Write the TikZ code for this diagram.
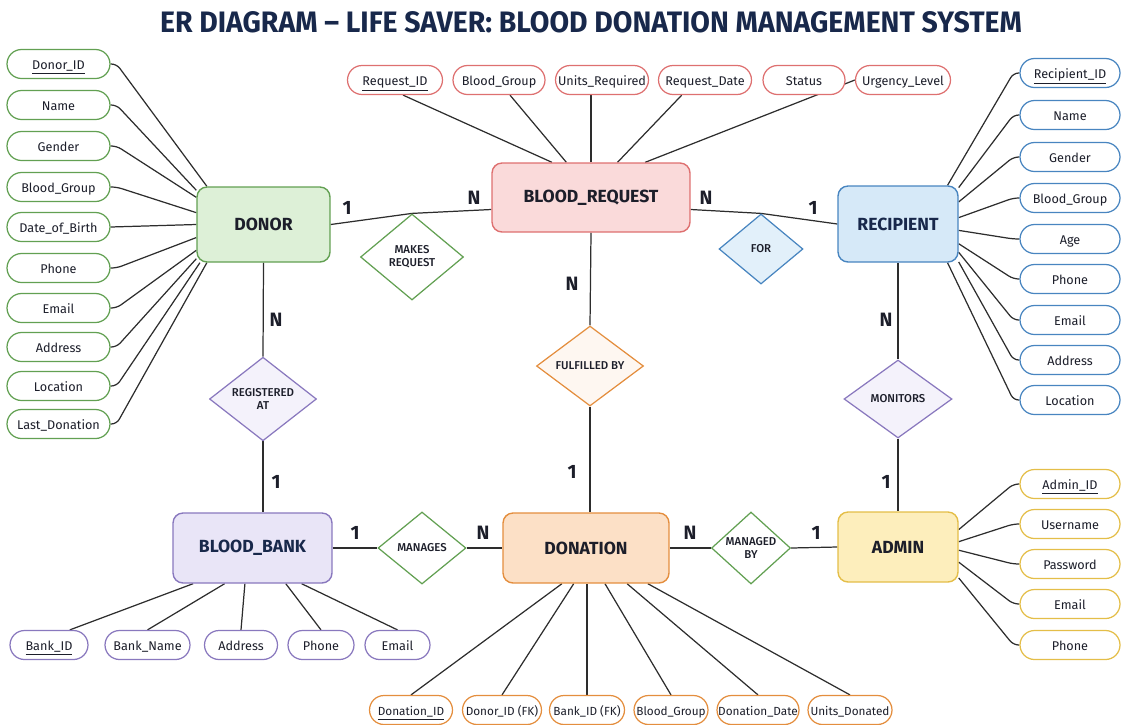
\documentclass[tikz,border=0pt]{standalone}
\usepackage{fontspec}
\usepackage{graphicx}
\setmainfont{Fira Sans}
\newfontfamily\medfont{Fira Sans Medium}
\usetikzlibrary{arrows,positioning,shapes.geometric,backgrounds}
\definecolor{inkdark}{RGB}{28,30,42}
\definecolor{inknavy}{RGB}{24,40,75}
\definecolor{linkgray}{RGB}{45,45,45}
\definecolor{greenline}{RGB}{98,160,82}
\definecolor{greenfill}{RGB}{221,240,215}
\definecolor{redline}{RGB}{222,112,112}
\definecolor{redfill}{RGB}{250,218,218}
\definecolor{blueline}{RGB}{72,133,192}
\definecolor{bluefill}{RGB}{214,233,248}
\definecolor{purpleline}{RGB}{137,120,190}
\definecolor{purplefill}{RGB}{233,229,247}
\definecolor{orangeline}{RGB}{228,142,62}
\definecolor{orangefill}{RGB}{252,224,198}
\definecolor{yellowline}{RGB}{228,190,72}
\definecolor{yellowfill}{RGB}{253,238,188}

\tikzset{
  entity/.style={draw, rounded corners=0.2cm, line width=0.8pt, text=inkdark,
    font=\bfseries\fontsize{10}{12}\selectfont},
  relation/.style={draw, diamond, inner sep=0pt, line width=0.7pt, align=center,
    fill=white, text=inkdark, font=\medfont\fontsize{6.5}{7.6}\selectfont},
  attrib/.style={draw, rounded corners=0.29cm, line width=0.7pt, fill=white,
    inner sep=0pt, minimum height=0.58cm, text=inkdark,
    text height=1.5ex, text depth=0.4ex},
  smallattrib/.style={attrib, font=\fontsize{6.7}{8}\selectfont},
  card/.style={font=\bfseries\fontsize{11}{13}\selectfont, text=inkdark},
  link/.style={draw=linkgray, line width=0.7pt},
}

\begin{document}
\begin{tikzpicture}[x=0.02cm, y=-0.02cm, font=\fontsize{7.2}{8.6}\selectfont]
  \useasboundingbox (0,0) rectangle (1121,724);

  \node[text=inknavy] (title) at (591,22)
    {\resizebox{17.24cm}{0.42cm}{\bfseries ER DIAGRAM – LIFE SAVER: BLOOD DONATION MANAGEMENT SYSTEM}};

  % entities
  \node[entity, fill=greenfill, draw=greenline, minimum width=2.66cm, minimum height=1.5cm] (donor) at (263.5,224.5) {DONOR};
  \node[entity, fill=redfill, draw=redline, minimum width=3.96cm, minimum height=1.38cm] (breq) at (591,197.5) {BLOOD\_REQUEST};
  \node[entity, fill=bluefill, draw=blueline, text=inknavy, minimum width=2.4cm, minimum height=1.52cm] (recip) at (898,224) {RECIPIENT};
  \node[entity, fill=purplefill, draw=purpleline, text=inknavy, minimum width=3.18cm, minimum height=1.4cm] (bank) at (252.5,548) {BLOOD\_BANK};
  \node[entity, fill=orangefill, draw=orangeline, minimum width=3.32cm, minimum height=1.4cm] (don) at (586,548) {DONATION};
  \node[entity, fill=yellowfill, draw=yellowline, minimum width=2.4cm, minimum height=1.4cm] (admin) at (898,547) {ADMIN};

  % relationships
  \node[relation, draw=greenline, minimum width=2.06cm, minimum height=1.72cm] (makes) at (412,257) {MAKES\\REQUEST};
  \node[relation, draw=blueline, fill=bluefill!70!white, minimum width=1.68cm, minimum height=1.4cm] (for) at (761,249) {FOR};
  \node[relation, draw=orangeline, fill=orangefill!25!white, minimum width=2.14cm, minimum height=1.6cm] (ful) at (590,366) {FULFILLED BY};
  \node[relation, draw=purpleline, fill=purplefill!50!white, minimum width=2.14cm, minimum height=1.58cm] (reg) at (263,399) {REGISTERED\\AT};
  \node[relation, draw=purpleline, fill=purplefill!50!white, minimum width=2.16cm, minimum height=1.56cm] (mon) at (898,399) {MONITORS};
  \node[relation, draw=greenline, minimum width=1.76cm, minimum height=1.44cm] (man) at (422,548) {MANAGES};
  \node[relation, draw=greenline, minimum width=1.58cm, minimum height=1.44cm] (mby) at (751,548) {MANAGED\\BY};

  % donor attributes
  \node[attrib, draw=greenline, minimum width=2.06cm] (da1) at (58.5,64) {\underline{Donor\_ID}};
  \node[attrib, draw=greenline, minimum width=2.06cm] (da2) at (58.5,105) {Name};
  \node[attrib, draw=greenline, minimum width=2.06cm] (da3) at (58.5,146) {Gender};
  \node[attrib, draw=greenline, minimum width=2.06cm] (da4) at (58.5,187) {Blood\_Group};
  \node[attrib, draw=greenline, minimum width=2.06cm] (da5) at (58.5,227) {Date\_of\_Birth};
  \node[attrib, draw=greenline, minimum width=2.06cm] (da6) at (58.5,268) {Phone};
  \node[attrib, draw=greenline, minimum width=2.06cm] (da7) at (58.5,308) {Email};
  \node[attrib, draw=greenline, minimum width=2.06cm] (da8) at (58.5,347) {Address};
  \node[attrib, draw=greenline, minimum width=2.06cm] (da9) at (58.5,386) {Location};
  \node[attrib, draw=greenline, minimum width=2.06cm] (da10) at (58.5,424) {Last\_Donation};

  % blood request attributes
  \node[attrib, draw=redline, minimum width=1.9cm] (qa1) at (395,80) {\underline{Request\_ID}};
  \node[attrib, draw=redline, minimum width=1.84cm] (qa2) at (499,80) {Blood\_Group};
  \node[attrib, draw=redline, minimum width=1.86cm] (qa3) at (602,80) {Units\_Required};
  \node[attrib, draw=redline, minimum width=1.86cm] (qa4) at (705,80) {Request\_Date};
  \node[attrib, draw=redline, minimum width=1.64cm] (qa5) at (804,80) {Status};
  \node[attrib, draw=redline, minimum width=1.9cm] (qa6) at (903,80) {Urgency\_Level};

  % recipient attributes
  \node[attrib, draw=blueline, minimum width=2.0cm] (ra1) at (1070,73) {\underline{Recipient\_ID}};
  \node[attrib, draw=blueline, minimum width=2.0cm] (ra2) at (1070,115) {Name};
  \node[attrib, draw=blueline, minimum width=2.0cm] (ra3) at (1070,157) {Gender};
  \node[attrib, draw=blueline, minimum width=2.0cm] (ra4) at (1070,198) {Blood\_Group};
  \node[attrib, draw=blueline, minimum width=2.0cm] (ra5) at (1070,239) {Age};
  \node[attrib, draw=blueline, minimum width=2.0cm] (ra6) at (1070,279) {Phone};
  \node[attrib, draw=blueline, minimum width=2.0cm] (ra7) at (1070,320) {Email};
  \node[attrib, draw=blueline, minimum width=2.0cm] (ra8) at (1070,360) {Address};
  \node[attrib, draw=blueline, minimum width=2.0cm] (ra9) at (1070,400) {Location};

  % admin attributes
  \node[attrib, draw=yellowline, minimum width=2.0cm] (aa1) at (1070,484) {\underline{Admin\_ID}};
  \node[attrib, draw=yellowline, minimum width=2.0cm] (aa2) at (1070,524) {Username};
  \node[attrib, draw=yellowline, minimum width=2.0cm] (aa3) at (1070,564) {Password};
  \node[attrib, draw=yellowline, minimum width=2.0cm] (aa4) at (1070,604) {Email};
  \node[attrib, draw=yellowline, minimum width=2.0cm] (aa5) at (1070,645) {Phone};

  % blood bank attributes
  \node[attrib, draw=purpleline, minimum width=1.56cm] (ba1) at (49,645) {\underline{Bank\_ID}};
  \node[attrib, draw=purpleline, minimum width=1.7cm] (ba2) at (147.5,645) {Bank\_Name};
  \node[attrib, draw=purpleline, minimum width=1.46cm] (ba3) at (241,645) {Address};
  \node[attrib, draw=purpleline, minimum width=1.32cm] (ba4) at (321,645) {Phone};
  \node[attrib, draw=purpleline, minimum width=1.3cm] (ba5) at (397.5,645) {Email};

  % donation attributes
  \node[smallattrib, draw=orangeline, minimum width=1.66cm] (na1) at (411,710) {\underline{Donation\_ID}};
  \node[smallattrib, draw=orangeline, minimum width=1.58cm] (na2) at (502,710) {Donor\_ID (FK)};
  \node[smallattrib, draw=orangeline, minimum width=1.5cm] (na3) at (587,710) {Bank\_ID (FK)};
  \node[smallattrib, draw=orangeline, minimum width=1.48cm] (na4) at (671,710) {Blood\_Group};
  \node[smallattrib, draw=orangeline, minimum width=1.64cm] (na5) at (758,710) {Donation\_Date};
  \node[smallattrib, draw=orangeline, minimum width=1.68cm] (na6) at (850,710) {Units\_Donated};

  % cardinalities
  \node[card] (c1) at (347,208) {1};
  \node[card] (c2) at (474,198) {N};
  \node[card] (c3) at (706,198) {N};
  \node[card] (c4) at (813,208) {1};
  \node[card] (c5) at (572,284) {N};
  \node[card] (c6) at (572,472) {1};
  \node[card] (c7) at (276,320) {N};
  \node[card] (c8) at (276,482) {1};
  \node[card] (c9) at (886,320) {N};
  \node[card] (c10) at (886,482) {1};
  \node[card] (c11) at (355,533) {1};
  \node[card] (c12) at (483,533) {N};
  \node[card] (c13) at (690,533) {N};
  \node[card] (c14) at (816,533) {1};

  \begin{scope}[on background layer]
    % relationship lines
    \draw[link] (donor.east) -- (makes.north) -- ([yshift=-0.24cm]breq.west);
    \draw[link] ([yshift=-0.24cm]breq.east) -- (for.north) -- (recip.west);
    \draw[link] (breq.south) -- (ful.north);
    \draw[link] (ful.south) -- (ful.south |- don.north);
    \draw[link] (donor.south) -- (reg.north);
    \draw[link] (reg.south) -- (reg.south |- bank.north);
    \draw[link] (recip.south) -- (mon.north);
    \draw[link] (mon.south) -- (admin.north);
    \draw[link] (bank.east) -- (man.west);
    \draw[link] (man.east) -- (don.west);
    \draw[link] (don.east) -- (mby.west);
    \draw[link] (mby.east) -- (admin.west);

    % attribute lines
    \draw[link, rounded corners=3pt] (da1.east) -- ++(6,0) -- (donor.146);
    \draw[link, rounded corners=3pt] (da2.east) -- ++(6,0) -- (donor.153);
    \draw[link, rounded corners=3pt] (da3.east) -- ++(6,0) -- (donor.158);
    \draw[link, rounded corners=3pt] (da4.east) -- ++(6,0) -- (donor.170);
    \draw[link, rounded corners=3pt] (da5.east) -- (donor.180);
    \draw[link, rounded corners=3pt] (da6.east) -- ++(6,0) -- (donor.191);
    \draw[link, rounded corners=3pt] (da7.east) -- ++(6,0) -- (donor.201);
    \draw[link, rounded corners=3pt] (da8.east) -- ++(6,0) -- (donor.207);
    \draw[link, rounded corners=3pt] (da9.east) -- ++(6,0) -- (donor.211);
    \draw[link, rounded corners=3pt] (da10.east) -- ++(6,0) -- (donor.214);

    \draw[link] (qa1.298) -- (breq.138);
    \draw[link] (qa2.306) -- (breq.125);
    \draw[link] (breq.north) -- (breq.north |- qa3.south);
    \draw[link] (qa4.213) -- (breq.53);
    \draw[link] (qa6.west) -- (breq.33);

    \draw[link, rounded corners=3pt] (ra1.west) -- ++(-6,0) -- (recip.38);
    \draw[link, rounded corners=3pt] (ra2.west) -- ++(-6,0) -- (recip.31);
    \draw[link, rounded corners=3pt] (ra3.west) -- ++(-6,0) -- (recip.20);
    \draw[link, rounded corners=3pt] (ra4.west) -- ++(-6,0) -- (recip.6);
    \draw[link, rounded corners=3pt] (ra5.west) -- ++(-6,0) -- (recip.354);
    \draw[link, rounded corners=3pt] (ra6.west) -- ++(-6,0) -- (recip.342);
    \draw[link, rounded corners=3pt] (ra7.west) -- ++(-6,0) -- (recip.335);
    \draw[link, rounded corners=3pt] (ra8.west) -- ++(-6,0) -- (recip.328);
    \draw[link, rounded corners=3pt] (ra9.west) -- ++(-6,0) -- (recip.322);

    \draw[link, rounded corners=3pt] (aa1.west) -- ++(-6,0) -- (admin.16);
    \draw[link, rounded corners=3pt] (aa2.west) -- ++(-6,0) -- (admin.5);
    \draw[link, rounded corners=3pt] (aa3.west) -- ++(-6,0) -- (admin.357);
    \draw[link, rounded corners=3pt] (aa4.west) -- ++(-6,0) -- (admin.346);
    \draw[link, rounded corners=3pt] (aa5.west) -- ++(-6,0) -- (admin.333);

    \draw[link] (ba1.36) -- (bank.211);
    \draw[link] (ba2.north) -- (bank.232);
    \draw[link] (ba3.north) -- (bank.258);
    \draw[link] (ba4.north) -- (bank.313);
    \draw[link] (ba5.north) -- (bank.324);

    \draw[link] (na1.north) -- (don.236);
    \draw[link] (na2.north) -- (don.251);
    \draw[link] (na3.north) -- (na3.north |- don.south);
    \draw[link] (na4.north) -- (don.298);
    \draw[link] (na5.north) -- (don.319);
    \draw[link] (na6.north) -- (don.330);
  \end{scope}
\end{tikzpicture}
\end{document}
